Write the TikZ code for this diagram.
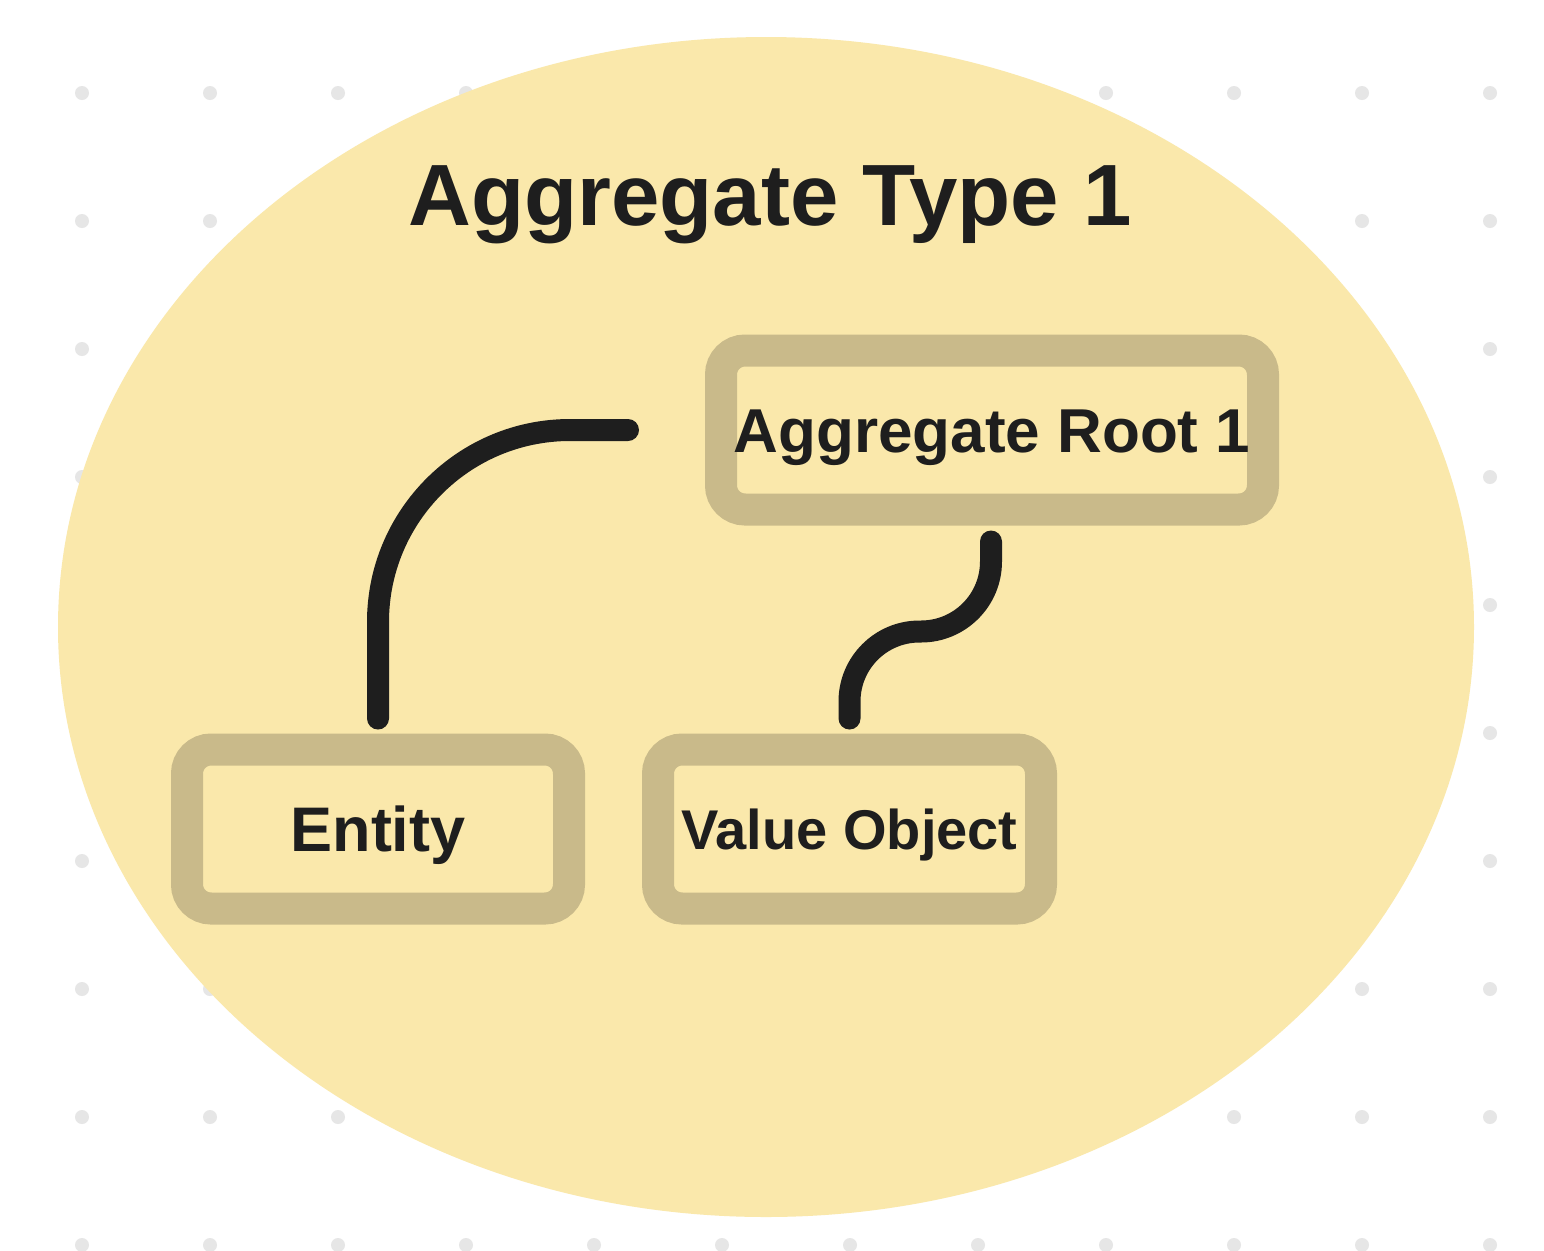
\documentclass[tikz,border=0pt]{standalone}
\usepackage{fontspec}
\setmainfont{Liberation Sans}
\usetikzlibrary{calc, positioning}

\definecolor{aggfill}{HTML}{FAE8AB}
\definecolor{boxline}{HTML}{C9BA8A}
\definecolor{ink}{HTML}{1E1E1E}
\definecolor{dotgrey}{HTML}{E6E6E6}

\begin{document}
\begin{tikzpicture}[x=0.5pt, y=-0.5pt,
        aggbox/.style={draw=boxline, line width=16pt, rounded corners=12pt, inner sep=0pt,
            minimum height=79.5pt, text depth=0pt, text=ink},
        title/.style={text=ink, inner sep=0pt, font=\bfseries\fontsize{43.5}{43.5}\selectfont},
        link/.style={draw=ink, line width=11pt, line cap=round}
    ]

    \fill[white] (0,0) rectangle (1544,1250);
    \useasboundingbox (0,0) rectangle (1544,1250);

    % Dot grid
    \foreach \i in {0,...,11}
        \foreach \j in {0,...,9}
            \fill[dotgrey] ({82+128*\i},{93+128*\j}) circle[radius=7];

    \fill[aggfill] (766,627) ellipse [x radius=708, y radius=590];

    \node[title, anchor=base] (title) at (770,225) {Aggregate Type 1};

    \node[aggbox, minimum width=271pt, text height=22.2pt,
        font=\bfseries\fontsize{31}{31}\selectfont] (root) at (992,430) {Aggregate Root 1};
    \node[aggbox, minimum width=191pt, text height=22.5pt,
        font=\bfseries\fontsize{31.5}{31.5}\selectfont] (entity) at (378,829) {Entity};
    \node[aggbox, minimum width=191.5pt, text height=20pt,
        font=\bfseries\fontsize{28}{28}\selectfont, right=28.5pt of entity] (value) {Value Object};

    % Links
    \coordinate (rootout) at ($(root.west)+(-77,0)$);
    \coordinate (entityin) at ($(entity.north)+(0,-15)$);
    \draw[link, rounded corners=96pt] (rootout) -- (entityin |- rootout) -- (entityin);

    \coordinate (rootdown) at ($(root.south)+(-1,16)$);
    \coordinate (valuein) at ($(value.north)+(0,-15)$);
    \draw[link, rounded corners=35pt] (rootdown) -- ++(0,90) -| (valuein);

\end{tikzpicture}
\end{document}
